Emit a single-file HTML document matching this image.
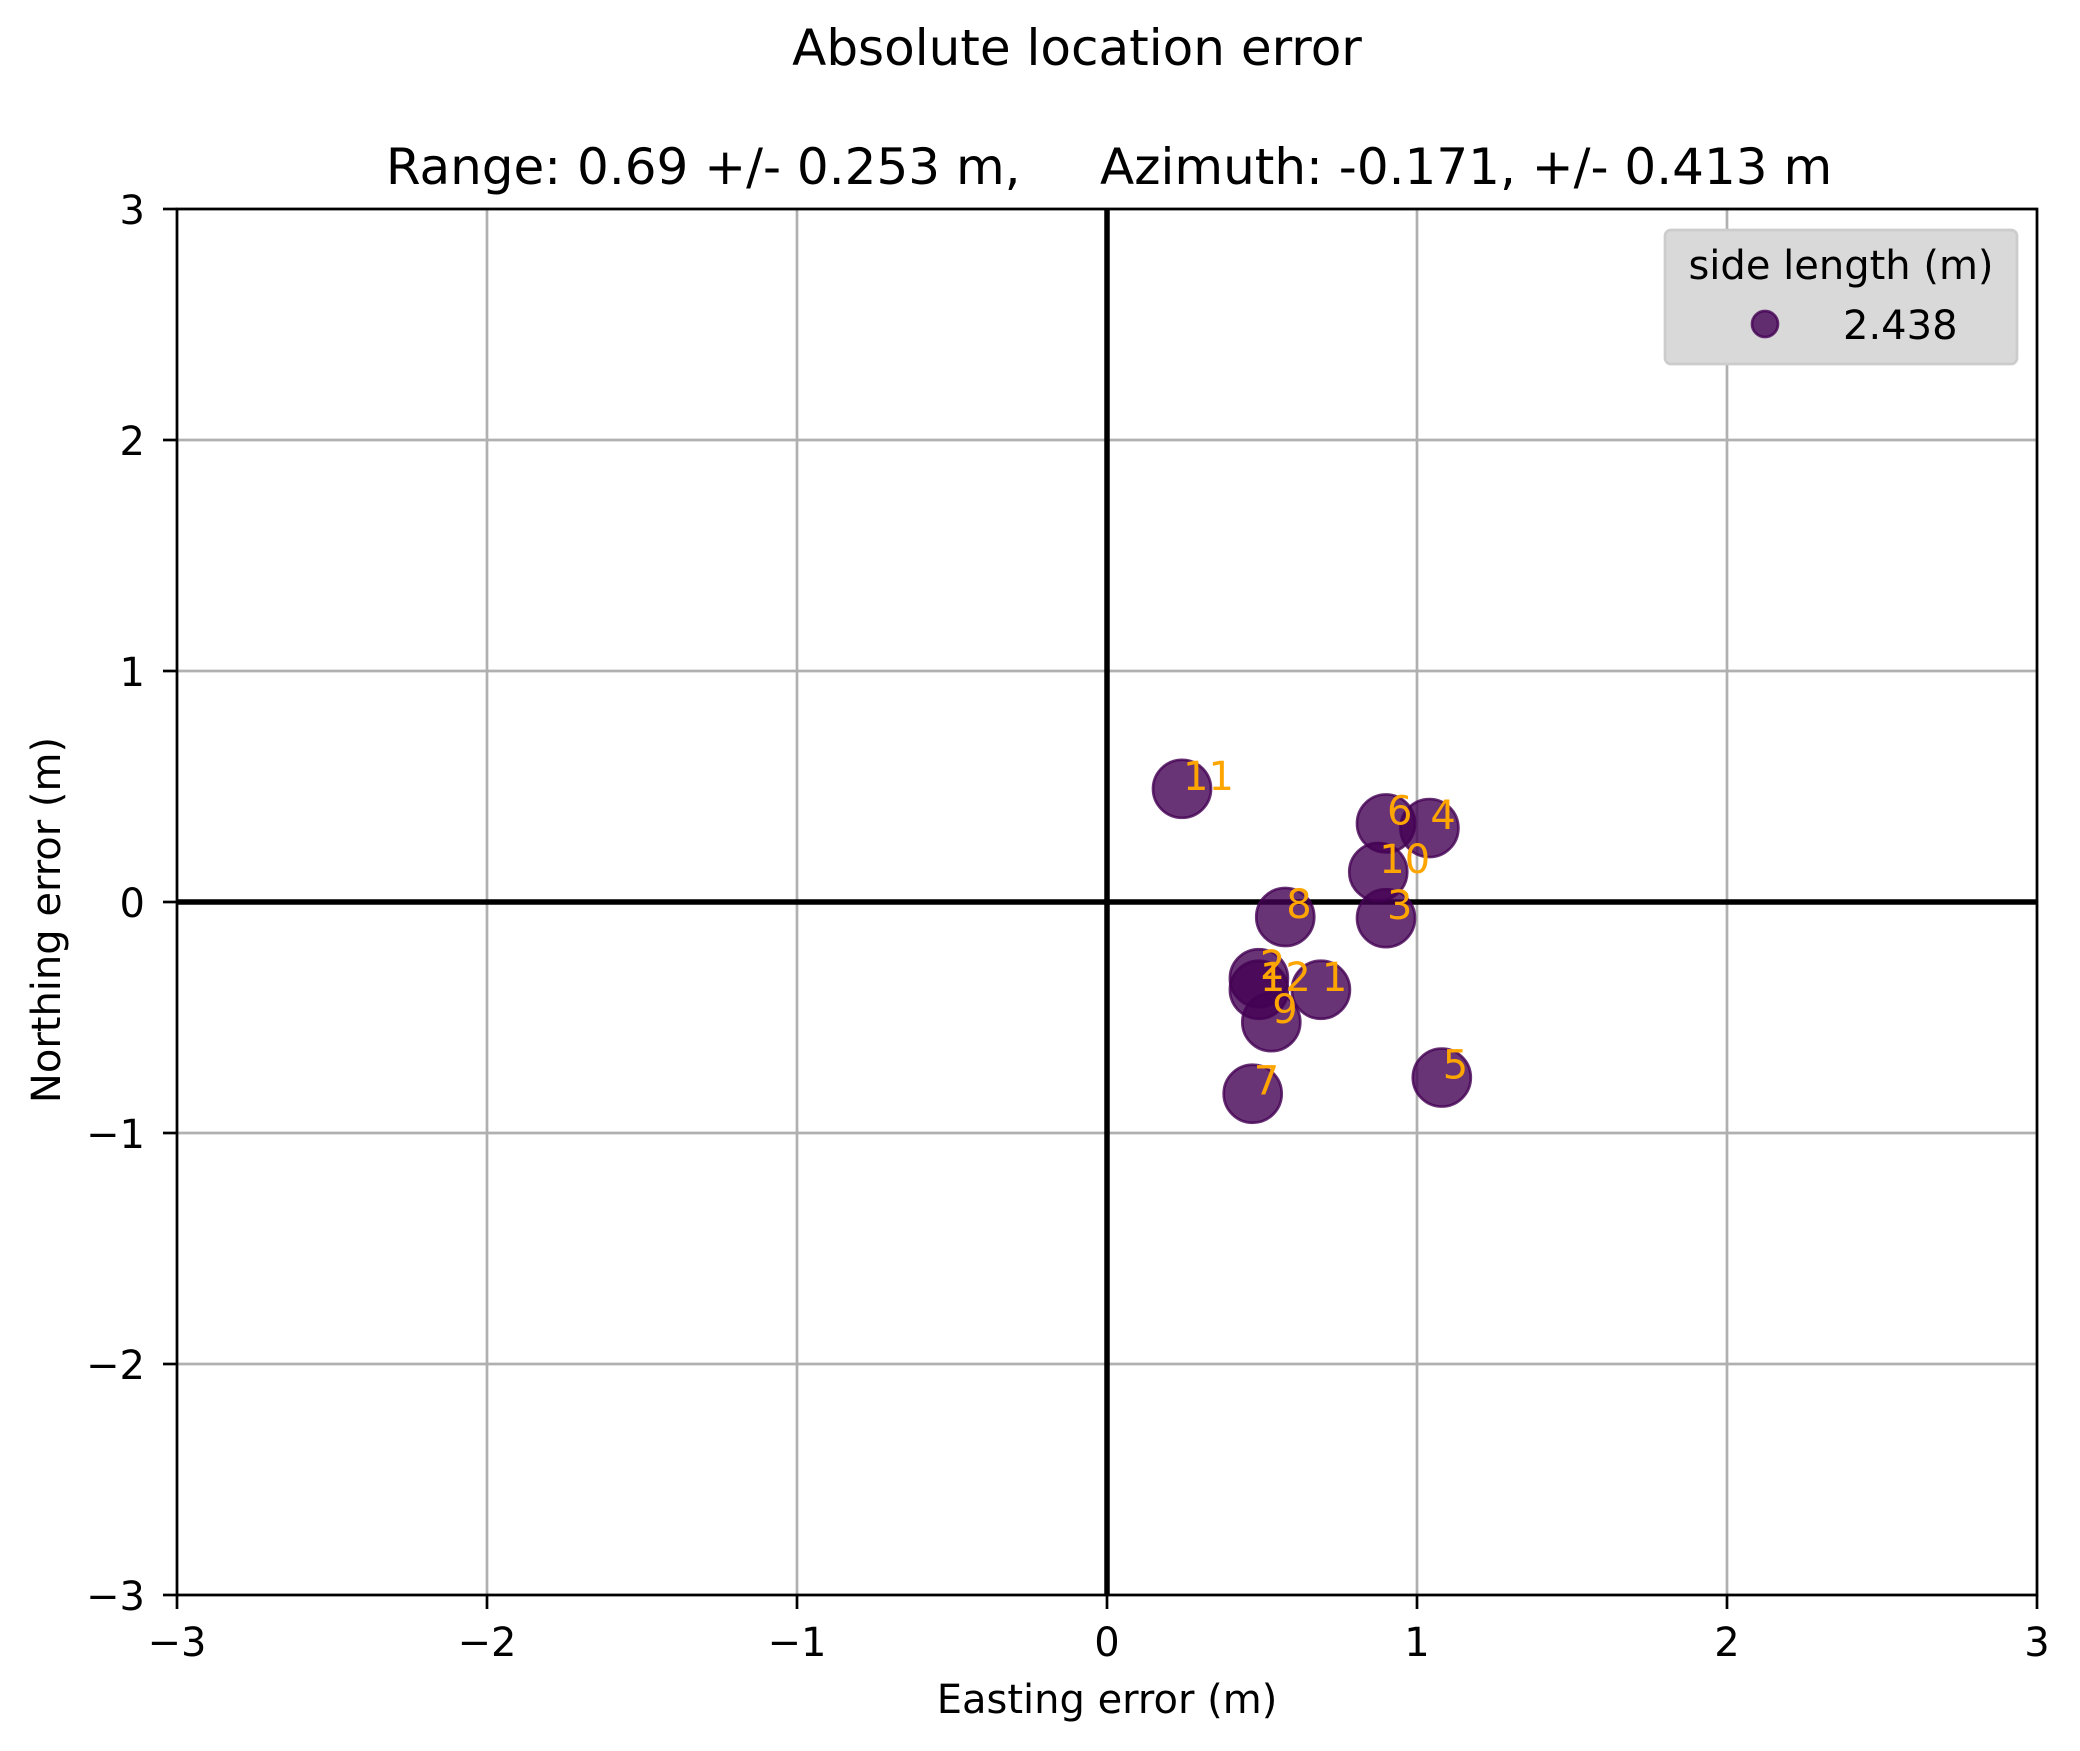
<!DOCTYPE html>
<html><head><meta charset="utf-8"><style>body{margin:0;background:#fff}svg{display:block;font-family:"DejaVu Sans","Liberation Sans",sans-serif}</style></head>
<body>
<svg id="chart" width="2080" height="1751" viewBox="0 0 2080 1751">
<g id="grid"></g><g id="axes"></g><g id="marks"></g><g id="labels"></g>
</svg>
<script>
const pointIds = ["1","2","3","4","5","6","7","8","9","10","11","12"];
const eastErr = [0.69,0.49,0.90,1.04,1.08,0.90,0.47,0.575,0.53,0.875,0.242,0.49];
const northErr = [-0.38,-0.33,-0.07,0.32,-0.76,0.34,-0.83,-0.065,-0.52,0.13,0.49,-0.38];
const xTicks = [-3,-2,-1,0,1,2,3];
const yTicks = [-3,-2,-1,0,1,2,3];
const L=177,R=2037,T=209,B=1595;
const sx=v=>L+(v+3)/6*(R-L), sy=v=>B-(v+3)/6*(B-T);
const NS="http://www.w3.org/2000/svg";
function mk(parent,tag,attrs,text){const e=document.createElementNS(NS,tag);for(const k in attrs)e.setAttribute(k,attrs[k]);if(text!==undefined)e.textContent=text;document.getElementById(parent).appendChild(e);return e;}
const svg=document.getElementById('chart');
function lab(txt,x,y,size,anchor,extra){const e=document.createElementNS(NS,'text');e.setAttribute('x',x);e.setAttribute('y',y);e.setAttribute('font-size',size);e.setAttribute('text-anchor',anchor||'middle');if(extra)for(const k in extra)e.setAttribute(k,extra[k]);e.textContent=txt;svg.appendChild(e);return e;}
xTicks.forEach(t=>{
  const g=mk('grid','line',{x1:sx(t),x2:sx(t),y1:T,y2:B,stroke:'#b0b0b0','stroke-width':2.7});
  
  
  const tk=mk('axes','line',{x1:sx(t),x2:sx(t),y1:B,y2:B+14,stroke:'#000','stroke-width':2.7});
  
  
  const tl=lab(String(t).replace('-','\u2212'),sx(t),1656,40);
  
  
});
yTicks.forEach(t=>{
  const g=mk('grid','line',{x1:L,x2:R,y1:sy(t),y2:sy(t),stroke:'#b0b0b0','stroke-width':2.7});
  
  
  const tk=mk('axes','line',{x1:L-14,x2:L,y1:sy(t),y2:sy(t),stroke:'#000','stroke-width':2.7});
  
  
  const tl=lab(String(t).replace('-','\u2212'),145,sy(t)+15,40,'end');
  
  
});
const fr=mk('axes','rect',{x:L,y:T,width:R-L,height:B-T,fill:'none',stroke:'#000','stroke-width':2.7});


const zx=mk('axes','line',{x1:sx(0),x2:sx(0),y1:T,y2:B,stroke:'#000','stroke-width':5.5});


const zy=mk('axes','line',{x1:L,x2:R,y1:sy(0),y2:sy(0),stroke:'#000','stroke-width':5.5});


eastErr.forEach((e,i)=>{
  const c=mk('marks','circle',{cx:sx(e),cy:sy(northErr[i]),r:29,fill:'#440154','fill-opacity':0.8,stroke:'#440154','stroke-opacity':0.8,'stroke-width':2.7});
  
  
});
eastErr.forEach((e,i)=>{
  const t=mk('labels','text',{x:sx(e)+1,y:sy(northErr[i])+1,'font-size':40,fill:'#ffa500'},pointIds[i]);
  
  
});
</script>
<script>
const s=document.getElementById('chart');
s.insertAdjacentHTML('beforeend',`
<text x="1077" y="65" font-size="50" text-anchor="middle">Absolute location error</text>
<text x="1109" y="184" font-size="50" text-anchor="middle" xml:space="preserve">Range: 0.69 +/- 0.253 m,     Azimuth: -0.171, +/- 0.413 m</text>
<text x="1107" y="1713" font-size="40" text-anchor="middle">Easting error (m)</text>
<text x="60" y="920" font-size="40" text-anchor="middle" transform="rotate(-90 60 920)">Northing error (m)</text>
<g>
<rect x="1665" y="230" width="352" height="134" rx="6" fill="#d9d9d9" stroke="#cccccc" stroke-width="2.7"/>
<text x="1841" y="279" font-size="40" text-anchor="middle">side length (m)</text>
<circle cx="1765" cy="324" r="13" fill="#440154" fill-opacity="0.8" stroke="#440154" stroke-opacity="0.8" stroke-width="2.7"/>
<text x="1843" y="339" font-size="40">2.438</text>
</g>`);
</script>
</body></html>
